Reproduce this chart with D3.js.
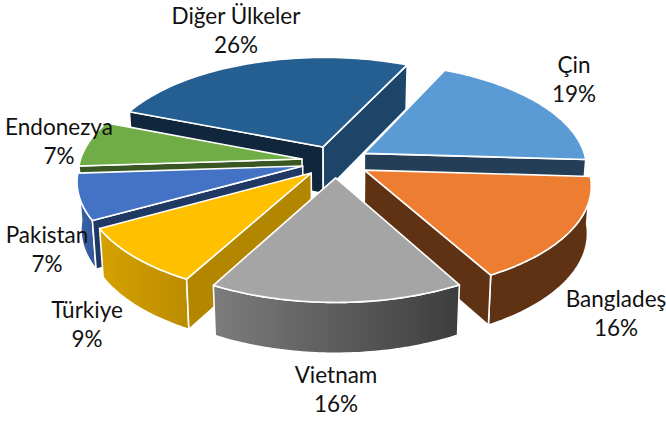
<!DOCTYPE html>
<html>
<head>
<meta charset="utf-8">
<script src="https://cdn.jsdelivr.net/npm/d3@7"></script>
<style>
    html, body { margin: 0; padding: 0; background: #fff; overflow: hidden; }
    text { font-family: Lato, sans-serif; font-size: 22.5px; fill: #111; text-anchor: middle; }
</style>
</head>
<body>
<div id="chart"></div>
<script>
// chart values
const countries = ["Çin", "Bangladeş", "Vietnam", "Türkiye", "Pakistan", "Endonezya", "Diğer Ülkeler"];
const shares = [19, 16, 16, 9, 7, 7, 26];

// colors per slice: top, outer wall (left and right end), start cut, end cut
const topColors = ["#5b9bd5", "#ed7d31", "#a5a5a5", "#ffc000", "#4472c4", "#70ad47", "#255e91"];
const wallLeft = ["#264a6e", "#5f3214", "#7c7c7c", "#d6a200", "#3a62a8", "#385723", "#1d4569"];
const wallRight = ["#264a6e", "#5f3214", "#3d3d3d", "#bb8c00", "#36599c", "#385723", "#1d4569"];
const cutStart = ["#253e57", "#5f3214", "#5a5a5a", "#b38600", "#203864", "#385723", "#10263d"];
const cutEnd = ["#253e57", "#5f3214", "#5a5a5a", "#b38600", "#203864", "#385723", "#1d4569"];

// back to front
const drawOrder = [6, 0, 5, 4, 3, 1, 2];

// label anchor, centre of the two lines
const labelX = [574, 616, 336, 87, 47, 59, 236];
const labelY = [66, 300, 376, 311, 236, 128, 17];

const width = 666, height = 421;
const cx = 335.5, cy = 161.5;
const radius = 222, explode = 34, tilt = 0.47, camera = 1750;
const depth = 47;

const svg = d3.select("#chart").append("svg")
    .attr("width", width).attr("height", height);
const defs = svg.append("defs");

const pie = d3.pie().sort(null)
    .startAngle(25 * Math.PI / 180)
    .endAngle(385 * Math.PI / 180);
const arcs = pie(shares);

// ground plane to screen, bottom=true gives the lower rim of the pie
function project(gx, gy, bottom) {
    const p = 1 / (1 - gy / camera);
    const q = bottom ? 0.985 : 1;
    const drop = bottom ? depth * Math.pow(p, 0.75) : 0;
    return [cx + gx * p * q, cy + tilt * gy * p * q + drop];
}

const line = d3.line();

arcs.forEach(function(d, i) { d.index = i; });

function addFace(g, points, fill) {
    g.append("path")
        .attr("d", line(points) + "Z")
        .attr("fill", fill)
        .attr("stroke", "#fff").attr("stroke-width", 1.6).attr("stroke-linejoin", "round");
}

drawOrder.forEach(function(i) {
    const d = arcs[i];
    const mid = (d.startAngle + d.endAngle) / 2;
    const ax = explode * Math.sin(mid), ay = -explode * Math.cos(mid);
    const rim = t => [ax + radius * Math.sin(t), ay - radius * Math.cos(t)];
    const angles = d3.range(0, 61).map(j => d.startAngle + (d.endAngle - d.startAngle) * j / 60);

    const topRim = angles.map(t => project(...rim(t), false));
    const lowRim = angles.map(t => project(...rim(t), true));
    const apexTop = project(ax, ay, false);
    const apexLow = project(ax, ay, true);
    const last = angles.length - 1;

    const g = svg.append("g").attr("class", "slice");

    // outer wall, front half of the rim only
    const front = angles.map((t, j) => j).filter(j => Math.cos(angles[j]) < 0);
    if (front.length > 1) {
        const wallTop = front.map(j => topRim[j]);
        const wallLow = front.map(j => lowRim[j]);
        const gradId = "wall" + i;
        const grad = defs.append("linearGradient").attr("id", gradId)
            .attr("gradientUnits", "userSpaceOnUse")
            .attr("x1", d3.min(wallTop, c => c[0])).attr("x2", d3.max(wallTop, c => c[0]))
            .attr("y1", 0).attr("y2", 0);
        grad.append("stop").attr("offset", 0).attr("stop-color", wallLeft[i]);
        grad.append("stop").attr("offset", 1).attr("stop-color", wallRight[i]);
        addFace(g, wallTop.concat(wallLow.slice().reverse()), "url(#" + gradId + ")");
    }

    // cut faces that look at the viewer
    if (Math.sin(d.startAngle) < 0) {
        addFace(g, [apexTop, topRim[0], lowRim[0], apexLow], cutStart[i]);
    }
    if (Math.sin(d.endAngle) > 0) {
        addFace(g, [apexTop, topRim[last], lowRim[last], apexLow], cutEnd[i]);
    }

    // top
    addFace(g, [apexTop].concat(topRim), topColors[i]);
});

// labels
const labels = svg.selectAll(".label")
    .data(arcs)
    .join("text")
    .attr("class", "label")
    .attr("x", d => labelX[d.index])
    .attr("y", d => labelY[d.index]);
labels.append("tspan")
    .attr("x", d => labelX[d.index])
    .attr("dy", 7)
    .text(d => countries[d.index]);
labels.append("tspan")
    .attr("x", d => labelX[d.index])
    .attr("dy", 29)
    .text(d => d.data + "%");
</script>
</body>
</html>
